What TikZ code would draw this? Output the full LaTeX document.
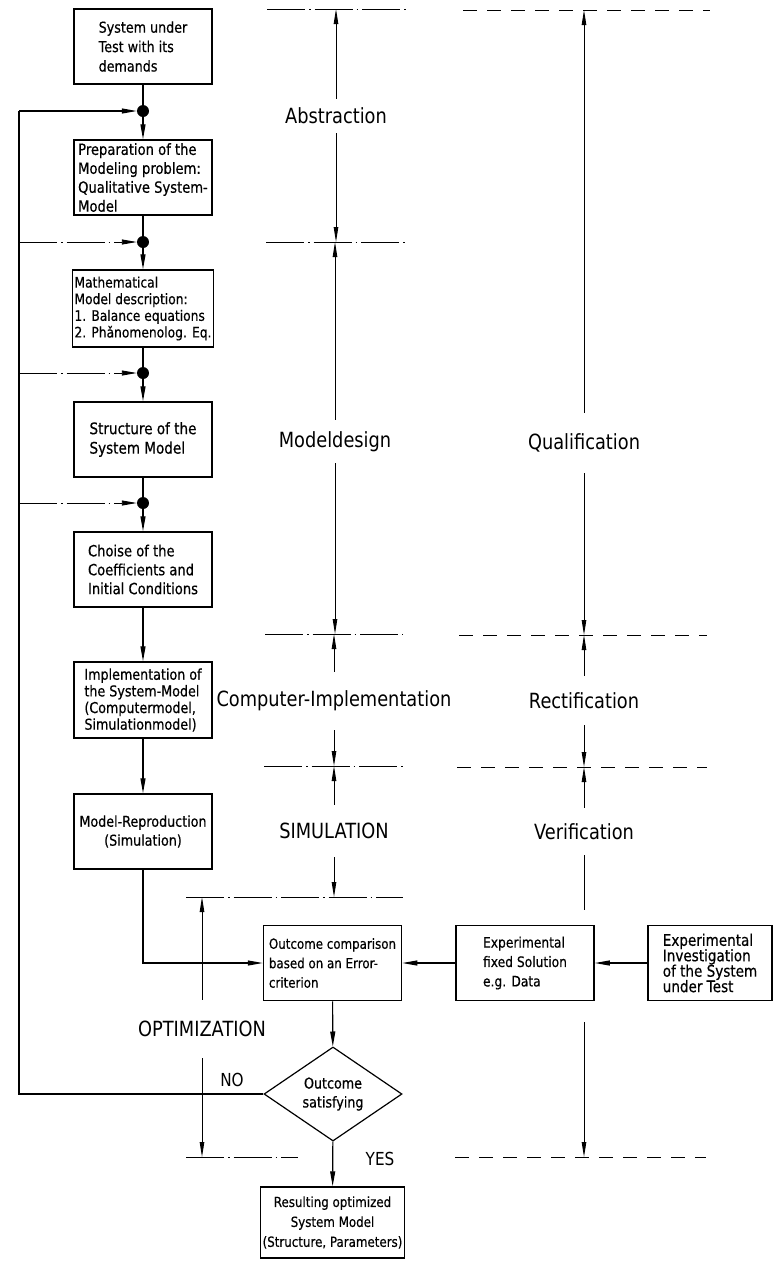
\documentclass[tikz,border=0pt]{standalone}
\usepackage{fontspec}
\setmainfont{DejaVu Sans}[FakeStretch=0.85]
\newfontfamily\boxfont{DejaVu Sans}[FakeStretch=0.85, FakeBold=0.5]
\usetikzlibrary{arrows.meta,shapes.geometric}

\tikzset{
  box/.style={draw, line width=1.5bp, minimum width=138bp, minimum height=75bp,
    inner sep=2bp, align=left, font=\boxfont\fontsize{16}{19.5}\selectfont},
  fs/.style={font=\boxfont\fontsize{#1}{#1*1.3}\selectfont},
  flow/.style={line width=1.1bp},
  arr/.style={flow, -{Triangle[length=15bp,width=5bp]}},
  junc/.style={circle, fill, minimum size=12bp, inner sep=0pt},
  dimlab/.style={inner sep=0pt, font=\fontsize{21}{25}\selectfont},
  dimline/.style={line width=0.9bp},
  dimarr/.style={dimline, -{Triangle[length=15bp,width=4.5bp]}},
  chainline/.style={line width=0.9bp, dash pattern=on 38bp off 4bp on 1.5bp off 4bp},
  dashline/.style={line width=0.9bp, dash pattern=on 14bp off 10bp},
  answer/.style={inner sep=0pt, font=\fontsize{18}{20}\selectfont},
}

\begin{document}
\begin{tikzpicture}[x=1bp,y=-1bp]
\useasboundingbox (0,0) rectangle (774,1261);

% ---------------- modelling chain (left column) ----------------
\node[box, font=\boxfont\fontsize{15}{19.5}\selectfont] (b1) at (143,46.5) {System under\\Test with its\\demands};
\node[junc] (d1) at (143,111) {};
\node[box, font=\boxfont\fontsize{15.5}{19}\selectfont] (b2) at (143,177.5) {Preparation of the\\Modeling problem:\\Qualitative System-\\Model};
\node[junc] (d2) at (143,242) {};
\node[box, font=\boxfont\fontsize{14.5}{16.7}\selectfont, minimum height=77bp] (b3) at (143,308.5) {Mathematical\\Model description:\\1. Balance equations\\2. Phǎnomenolog. Eq.};
\node[junc] (d3) at (143,373) {};
\node[box] (b4) at (143,439.5) {Structure of the\\System Model};
\node[junc] (d4) at (143,503) {};
\node[box, font=\boxfont\fontsize{15.5}{19}\selectfont] (b5) at (143,569.5) {Choise of the\\Coefficients and\\Initial Conditions};
\node[box, font=\boxfont\fontsize{15}{16.7}\selectfont, minimum height=76bp] (b6) at (143,700) {Implementation of\\the System-Model\\(Computermodel,\\Simulationmodel)};
\node[box, align=center, font=\boxfont\fontsize{15}{19}\selectfont] (b7) at (143,831.5) {Model-Reproduction\\(Simulation)};

\draw[flow] (b1) -- (d1);
\draw[arr] (d1) -- (b2);
\draw[flow] (b2) -- (d2);
\draw[arr] (d2) -- (b3);
\draw[flow] (b3) -- (d3);
\draw[arr] (d3) -- (b4);
\draw[flow] (b4) -- (d4);
\draw[arr] (d4) -- (b5);
\draw[arr] (b5) -- (b6);
\draw[arr] (b6) -- (b7);

% ---------------- comparison and decision ----------------
\node[box, font=\boxfont\fontsize{14}{19.5}\selectfont] (oc) at (332.5,963) {Outcome comparison\\based on an Error-\\criterion};
\node[box, font=\boxfont\fontsize{14.5}{19.5}\selectfont] (ef) at (525,963) {Experimental\\fixed Solution\\e.g. Data};
\node[box, font=\boxfont\fontsize{16}{15.5}\selectfont, minimum width=124bp] (ei) at (710,963) {Experimental\\Investigation\\of the System\\under Test};
\node[draw, diamond, line width=1.2bp, minimum width=138bp, minimum height=74bp,
      inner sep=0pt, align=center, font=\boxfont\fontsize{15}{19}\selectfont] (dia) at (333,1094) {Outcome\\satisfying};
\node[box, align=center, minimum height=71bp, font=\boxfont\fontsize{14}{20}\selectfont] (res) at (332.5,1222.5) {Resulting optimized\\System Model\\(Structure, Parameters)};

\draw[arr] (b7.south) |- (oc.west);
\draw[arr] (ef) -- (oc);
\draw[arr] (ei) -- (ef);
\draw[arr] (oc) -- (dia);
\draw[arr] (dia) -- (res);

\node[answer] (no) at (232,1080) {NO};
\node[answer] (yes) at (380,1159) {YES};

% ---------------- feedback loop ----------------
\coordinate (l1) at (19,111);
\coordinate (l2) at (19,242);
\coordinate (l3) at (19,373);
\coordinate (l4) at (19,503);
\coordinate (l5) at (19,1094);
\draw[flow] (dia.west) -- (l5) -- (l1);
\draw[arr] (l1) -- (d1);
\draw[arr, chainline] (l2) -- (d2);
\draw[arr, chainline] (l3) -- (d3);
\draw[arr, chainline] (l4) -- (d4);

% ---------------- phase boundaries (chain lines) ----------------
\coordinate (e1l) at (267,9);    \coordinate (e1r) at (406,9);
\coordinate (e2l) at (266,242);  \coordinate (e2r) at (405,242);
\coordinate (e3l) at (265,634);  \coordinate (e3r) at (403,634);
\coordinate (e4l) at (264,766);  \coordinate (e4r) at (403,766);
\coordinate (e5l) at (186,897);  \coordinate (e5r) at (403,897);
\coordinate (e6l) at (186,1157); \coordinate (e6r) at (298,1157);
\foreach \i in {1,...,6} \draw[chainline] (e\i l) -- (e\i r);

% ---------------- qualification boundaries (dashed) ----------------
\coordinate (f1l) at (463,10);   \coordinate (f1r) at (710,10);
\coordinate (f2l) at (459,635);  \coordinate (f2r) at (707,635);
\coordinate (f3l) at (457,767);  \coordinate (f3r) at (707,767);
\coordinate (f4l) at (455,1157); \coordinate (f4r) at (706,1157);
\foreach \i in {1,...,4} \draw[dashline] (f\i l) -- (f\i r);

% ---------------- phase dimensions ----------------
\node[dimlab, minimum height=34bp] (abs) at (336,116) {Abstraction};
\draw[dimarr] (abs) -- (abs |- e1l);
\draw[dimarr] (abs) -- (abs |- e2l);

\node[dimlab, minimum height=43bp] (mdl) at (335,441.5) {Modeldesign};
\draw[dimarr] (mdl) -- (mdl |- e2l);
\draw[dimarr] (mdl) -- (mdl |- e3l);

\node[dimlab, minimum height=58bp] (cim) at (334,701) {Computer-Implementation};
\draw[dimarr] (cim) -- (cim |- e3l);
\draw[dimarr] (cim) -- (cim |- e4l);

\node[dimlab, minimum height=52bp] (sim) at (334,831) {SIMULATION};
\draw[dimarr] (sim) -- (sim |- e4l);
\draw[dimarr] (sim) -- (sim |- e5l);

\node[dimlab, minimum height=58bp] (opt) at (202,1029) {OPTIMIZATION};
\draw[dimarr] (opt) -- (opt |- e5l);
\draw[dimarr] (opt) -- (opt |- e6l);

\node[dimlab, minimum height=60bp] (qua) at (584,443) {Qualification};
\draw[dimarr] (qua) -- (qua |- f1l);
\draw[dimarr] (qua) -- (qua |- f2l);

\node[dimlab, minimum height=49bp] (rec) at (584,700.5) {Rectification};
\draw[dimarr] (rec) -- (rec |- f2l);
\draw[dimarr] (rec) -- (rec |- f3l);

\node[dimlab, minimum height=47bp] (ver) at (584,831.5) {Verification};
\coordinate (v1) at (584,910);
\coordinate (v2) at (584,1022);
\draw[dimarr] (ver) -- (ver |- f3l);
\draw[dimline] (ver) -- (v1);
\draw[dimarr] (v2) -- (v2 |- f4l);
\end{tikzpicture}
\end{document}
